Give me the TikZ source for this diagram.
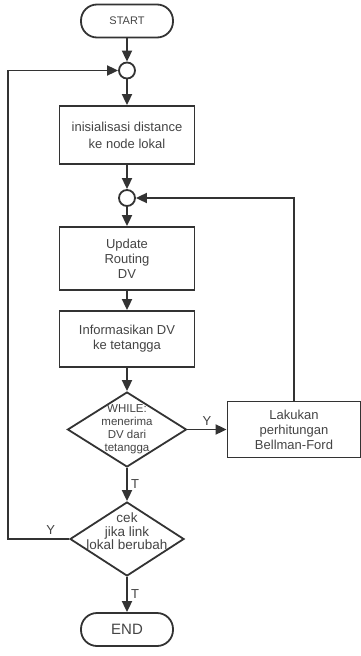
\documentclass[tikz,border=0pt]{standalone}
\usepackage{fontspec}
\setmainfont{Liberation Sans}
\usetikzlibrary{positioning,arrows.meta,shapes.geometric}
\definecolor{linegray}{HTML}{333333}
\definecolor{textgray}{HTML}{444444}

\begin{document}
\begin{tikzpicture}[
    x=1pt, y=1pt,
    every node/.style={text=textgray},
    term/.style={draw=linegray, line width=1.8pt, rounded corners=16pt, minimum width=92pt, minimum height=33pt, inner sep=0pt},
    junc/.style={draw=linegray, line width=1.8pt, circle, minimum size=16pt, inner sep=0pt, fill=white},
    proc/.style={draw=linegray, line width=1.8pt, minimum width=135pt, align=center, inner sep=0pt, font=\fontsize{13}{15}\selectfont},
    cond/.style={draw=linegray, line width=1.8pt, diamond, aspect=1.55, align=center},
    arrow/.style={-{Triangle[length=11pt,width=10pt]}, line width=1.8pt, draw=linegray},
    lbl/.style={font=\fontsize{13}{15}\selectfont},
  ]
  \useasboundingbox (0,0) rectangle (361,-656);

  \node[term, font=\fontsize{11}{13}\selectfont] (start) at (127,-21) {START};
  \node[junc, below=23.2pt of start] (c1) {};
  \node[proc, below=25.7pt of c1, minimum height=58pt, font=\fontsize{13}{17}\selectfont] (init) {inisialisasi distance\\ke node lokal};
  \node[junc, below=24.2pt of init] (c2) {};
  \node[proc, below=19.2pt of c2, minimum height=63pt] (update) {Update\\Routing\\DV};
  \node[proc, below=19.2pt of update, minimum height=56pt] (inform) {Informasikan DV\\ke tetangga};
  \node[cond, below=23.2pt of inform, minimum width=119pt, minimum height=75pt, inner sep=-4pt, font=\fontsize{11.5}{13}\selectfont] (recv) {WHILE:\\menerima\\DV dari\\tetangga};
  \node[proc, right=39.2pt of recv, minimum width=133pt, minimum height=56pt] (bf) {Lakukan\\perhitungan\\Bellman-Ford};
  \node[cond, below=33.2pt of recv, minimum width=114pt, minimum height=74pt, inner sep=-10pt, text depth=15pt, font=\fontsize{13.5}{13.5}\selectfont] (link) {cek\\jika link\\lokal berubah};
  \node[term, below=35.2pt of link, font=\fontsize{15}{17}\selectfont] (end) {END};
  \coordinate[left=61pt of link.west] (lc);

  \draw[arrow] (start) -- (c1);
  \draw[arrow] (c1) -- (init);
  \draw[arrow] (init) -- (c2);
  \draw[arrow] (c2) -- (update);
  \draw[arrow] (update) -- (inform);
  \draw[arrow] (inform) -- (recv);
  \draw[arrow] (recv) -- node[above, lbl] {Y} (bf);
  \draw[arrow] (bf.north) |- (c2.east);
  \draw[arrow] (recv) -- node[right, lbl] {T} (link);
  \draw[arrow] (link.west) -- node[above, lbl, pos=0.3] {Y} (lc) |- (c1.west);
  \draw[arrow] (link) -- node[right, lbl] {T} (end);
\end{tikzpicture}
\end{document}
